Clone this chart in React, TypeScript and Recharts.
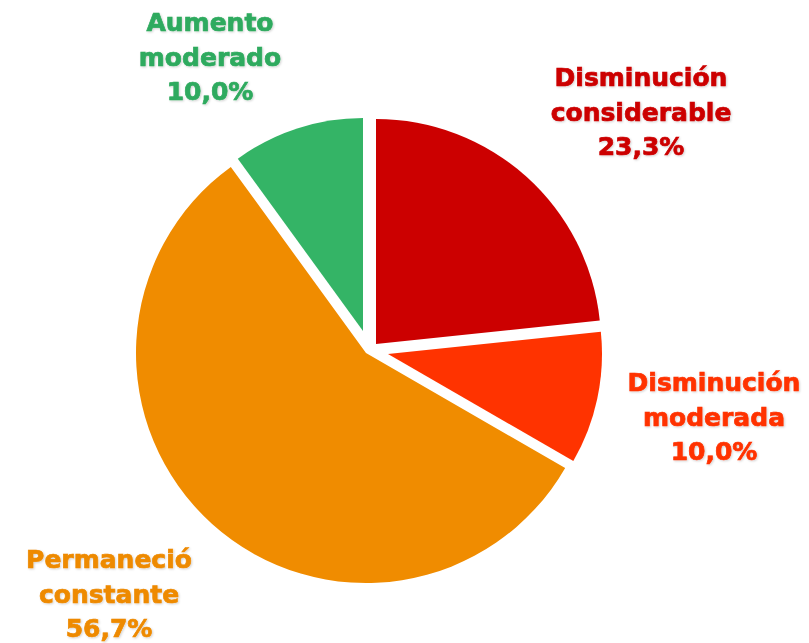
import React from "react";
import { PieChart, Pie, Cell } from "recharts";

const categories = [
  "Disminución considerable",
  "Disminución moderada",
  "Permaneció constante",
  "Aumento moderado",
];
const counts = [7, 3, 17, 3];
const colors = ["#CC0000", "#FF3300", "#F08C00", "#34B466"];
const labelColors = ["#CC0000", "#FF3300", "#EE8A00", "#2EAA5E"];

const data = categories.map((name, i) => ({ name, value: counts[i] }));

// layout: each exploded slice has its own apex and radius
const sliceLayout = [
  { cx: 376, cy: 344, r: 225 },
  { cx: 388, cy: 354, r: 214 },
  { cx: 366, cy: 353, r: 230 },
  { cx: 363, cy: 331, r: 213 },
];
const labelLayout = [
  { x: 641, y: 86 },
  { x: 714, y: 391 },
  { x: 109, y: 568 },
  { x: 210, y: 31 },
];

const fmt = (p: number) => (p * 100).toFixed(1).replace(".", ",") + "%";

const makeLabel = (slice: number) => (props: any) => {
  if (props.index !== slice) return null;
  const pos = labelLayout[slice];
  const name: string = props.name ?? categories[slice];
  const sp = name.indexOf(" ");
  const lines = [name.slice(0, sp), name.slice(sp + 1), fmt(props.percent)];
  return (
    <text
      key={"lbl" + slice}
      textAnchor="middle"
      fill={labelColors[slice]}
      stroke={labelColors[slice]}
      strokeWidth={0.7}
      filter="url(#lblShadow)"
      style={{ fontFamily: "'DejaVu Sans', Verdana, sans-serif", fontWeight: 700, fontSize: 25 }}
    >
      {lines.map((l, k) => (
        <tspan key={k} x={pos.x} y={pos.y + k * 34.5}>
          {l}
        </tspan>
      ))}
    </text>
  );
};

export default function App() {
  return (
    <div style={{ position: "absolute", left: 0, top: 0, width: 809, height: 643, background: "#fff" }}>
      <PieChart width={809} height={643} margin={{ top: 0, right: 0, bottom: 0, left: 0 }}>
        <defs>
          <filter id="lblShadow" x="-10%" y="-10%" width="120%" height="130%">
            <feDropShadow dx="1" dy="1" stdDeviation="0.8" floodColor="#000" floodOpacity="0.18" />
          </filter>
        </defs>
        {sliceLayout.map((s, si) => (
          <Pie
            key={si}
            data={data}
            dataKey="value"
            nameKey="name"
            cx={s.cx}
            cy={s.cy}
            innerRadius={0}
            outerRadius={s.r}
            startAngle={90}
            endAngle={-270}
            stroke="none"
            isAnimationActive={false}
            labelLine={false}
            label={makeLabel(si)}
          >
            {data.map((d, ci) => (
              <Cell key={ci} fill={ci === si ? colors[ci] : "transparent"} stroke="none" />
            ))}
          </Pie>
        ))}
      </PieChart>
    </div>
  );
}
